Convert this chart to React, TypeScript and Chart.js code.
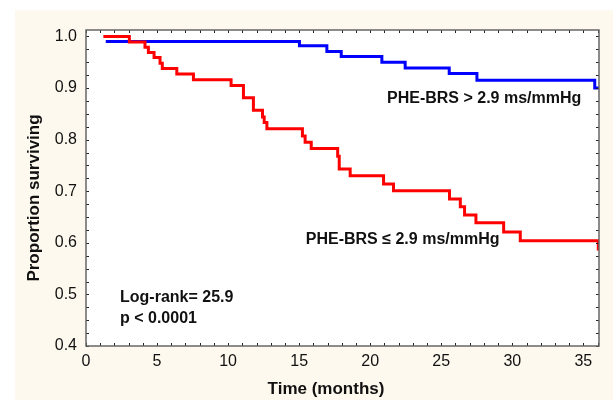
import React, { useEffect, useRef } from "react";
import { Chart, registerables } from "chart.js";

Chart.register(...registerables);

// Kaplan-Meier step data (time in months, proportion surviving)
const lowBrsTimes = [1.22, 3.05, 4.15, 4.39, 4.79, 5.21, 5.37, 6.39, 7.56, 10.21, 11.08, 11.78, 12.42, 12.54, 12.73, 15.23, 15.42, 15.85, 17.71, 17.82, 18.59, 20.94, 21.64, 25.58, 26.34, 26.64, 27.44, 29.39, 30.56, 36.05];
const lowBrsSurvival = [1.0, 0.989, 0.979, 0.969, 0.959, 0.948, 0.938, 0.927, 0.916, 0.905, 0.881, 0.857, 0.844, 0.833, 0.821, 0.807, 0.795, 0.783, 0.768, 0.743, 0.73, 0.714, 0.701, 0.685, 0.67, 0.654, 0.639, 0.621, 0.604, 0.585];

const highBrsTimes = [1.39, 15.02, 16.95, 17.96, 20.82, 22.46, 25.56, 27.51, 35.8, 36.1];
const highBrsSurvival = [0.99, 0.982, 0.971, 0.961, 0.95, 0.939, 0.928, 0.915, 0.9, 0.9];

const xTicks = [0, 5, 10, 15, 20, 25, 30, 35];
const yTicks = [0.4, 0.5, 0.6, 0.7, 0.8, 0.9, 1.0];
const xMinorStep = 1;
const yMinorStep = 0.025;

const xTitle = "Time (months)";
const yTitle = "Proportion surviving";
const highLabel = "PHE-BRS > 2.9 ms/mmHg";
const lowLabel = "PHE-BRS \u2264 2.9 ms/mmHg";
const statLine1 = "Log-rank= 25.9";
const statLine2 = "p < 0.0001";

const FONT = "'Liberation Sans', Arial, Helvetica, sans-serif";

const decorPlugin = {
  id: "decor",
  beforeDraw(chart: any) {
    const { ctx, chartArea: a } = chart;
    ctx.save();
    ctx.fillStyle = "#ffffff";
    ctx.fillRect(0, 0, chart.width, chart.height);
    ctx.fillStyle = "#fef9ee";
    ctx.fillRect(15, 10, chart.width - 15, chart.height - 10);
    ctx.fillStyle = "#ffffff";
    ctx.fillRect(a.left, a.top, a.right - a.left, a.bottom - a.top);
    ctx.restore();
  },
  afterDatasetsDraw(chart: any) {
    const { ctx, chartArea: a, scales } = chart;
    const xs = scales.x;
    const ys = scales.y;
    ctx.save();
    // minor / major ticks, pointing inward on all four sides
    ctx.strokeStyle = "#222";
    ctx.lineWidth = 1;
    ctx.beginPath();
    for (let v = xs.min; v <= xs.max + 1e-9; v += xMinorStep) {
      const px = Math.round(xs.getPixelForValue(v)) + 0.5;
      ctx.moveTo(px, a.bottom);
      ctx.lineTo(px, a.bottom - 3);
      ctx.moveTo(px, a.top);
      ctx.lineTo(px, a.top + 3);
    }
    for (let v = ys.min; v <= ys.max + 1e-9; v += yMinorStep) {
      const py = Math.round(ys.getPixelForValue(v)) + 0.5;
      ctx.moveTo(a.left, py);
      ctx.lineTo(a.left + 3, py);
      ctx.moveTo(a.right, py);
      ctx.lineTo(a.right - 3, py);
    }
    ctx.stroke();
    // frame
    ctx.strokeStyle = "#666";
    ctx.lineWidth = 1.5;
    ctx.strokeRect(a.left, a.top, a.right - a.left, a.bottom - a.top);

    // annotations
    ctx.fillStyle = "#111";
    ctx.textBaseline = "middle";
    ctx.font = `bold 16px ${FONT}`;
    ctx.textAlign = "left";
    ctx.fillText(highLabel, 387, 99);
    ctx.textAlign = "right";
    ctx.fillText(lowLabel, 499.5, 240);
    ctx.textAlign = "left";
    ctx.fillText(statLine1, 120, 298);
    ctx.fillText(statLine2, 120, 319);

    // axis titles
    ctx.font = `bold 17px ${FONT}`;
    ctx.textAlign = "center";
    ctx.fillText(xTitle, 326, 389);
    ctx.translate(34, 198);
    ctx.rotate(-Math.PI / 2);
    ctx.fillText(yTitle, 0, 0);
    ctx.restore();
  },
};

export default function App() {
  const ref = useRef<HTMLCanvasElement | null>(null);

  useEffect(() => {
    document.body.style.margin = "0";
    const canvas = ref.current;
    if (!canvas) return;
    const chart = new Chart(canvas, {
      type: "line",
      data: {
        datasets: [
          {
            label: lowLabel,
            data: lowBrsTimes.map((t, i) => ({ x: t, y: lowBrsSurvival[i] })),
            borderColor: "#ff0000",
            borderWidth: 3,
            stepped: true,
            pointRadius: 0,
            fill: false,
          },
          {
            label: highLabel,
            data: highBrsTimes.map((t, i) => ({ x: t, y: highBrsSurvival[i] })),
            borderColor: "#0000ff",
            borderWidth: 3,
            stepped: true,
            pointRadius: 0,
            fill: false,
          },
        ],
      },
      options: {
        animation: false,
        responsive: false,
        devicePixelRatio: 1,
        layout: { padding: { top: 30, right: 14, left: 0, bottom: 0 } },
        plugins: { legend: { display: false }, tooltip: { enabled: false } },
        scales: {
          x: {
            type: "linear",
            min: 0,
            max: 36.1,
            grid: { display: false, drawTicks: false },
            border: { display: false },
            afterBuildTicks: (s: any) => {
              s.ticks = xTicks.map((v) => ({ value: v }));
            },
            afterFit: (s: any) => {
              s.height = 54;
            },
            ticks: {
              padding: 6,
              color: "#111",
              font: { family: FONT, size: 16 },
              maxRotation: 0,
              autoSkip: false,
              callback: (v: any) => String(v),
            },
          },
          y: {
            type: "linear",
            min: 0.4,
            max: 1.0125,
            grid: { display: false, drawTicks: false },
            border: { display: false },
            afterBuildTicks: (s: any) => {
              s.ticks = yTicks.map((v) => ({ value: v }));
            },
            afterFit: (s: any) => {
              s.width = 86;
            },
            ticks: {
              padding: 9,
              color: "#111",
              font: { family: FONT, size: 16 },
              autoSkip: false,
              callback: (v: any) => Number(v).toFixed(1),
            },
          },
        },
      },
      plugins: [decorPlugin],
    });
    return () => chart.destroy();
  }, []);

  return (
    <div style={{ width: 613, height: 400 }}>
      <canvas ref={ref} width={613} height={400} style={{ display: "block" }} />
    </div>
  );
}
